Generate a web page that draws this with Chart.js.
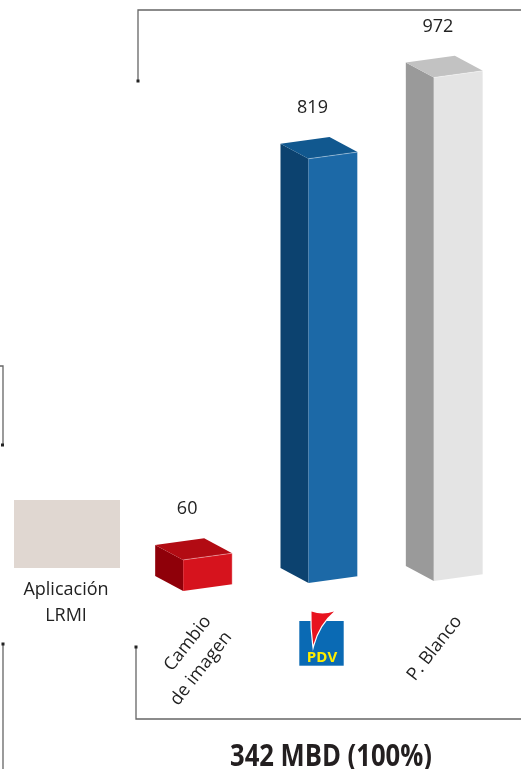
<!DOCTYPE html>
<html>
<head>
<meta charset="utf-8">
<script src="https://cdn.jsdelivr.net/npm/chart.js@4.4.0/dist/chart.umd.min.js"></script>
<style>
  html, body { margin: 0; padding: 0; background: #fff; overflow: hidden; }
  #wrap { width: 521px; height: 769px; position: relative; }
</style>
</head>
<body>
<div id="wrap"><canvas id="c" width="521" height="769"></canvas></div>
<script>
// Categories and values (thousand barrels per day)
const categories = [["Cambio", "de imagen"], "PDV", "P. Blanco"];
const values = [60, 819, 972];
const scaleRange = [0, 1000];
const sideLabel = ["Aplicación", "LRMI"];
const totalLabel = "342 MBD (100%)";

// Face colours of each 3D box
const frontColors = ["#d6131d", "#1c69a7", "#e4e4e4"];
const sideColors  = ["#8f0009", "#0c426f", "#9a9a9a"];
const topColors   = ["#b20b13", "#11588f", "#c2c2c2"];

const FONT = "'Open Sans', 'Noto Sans', sans-serif";

function poly(ctx, pts, fill) {
  ctx.beginPath();
  ctx.moveTo(pts[0][0], pts[0][1]);
  for (let k = 1; k < pts.length; k++) ctx.lineTo(pts[k][0], pts[k][1]);
  ctx.closePath();
  ctx.fillStyle = fill;
  ctx.fill();
}

function dot(ctx, x, y) {
  ctx.fillStyle = "#222";
  ctx.fillRect(x - 1.5, y - 1.5, 3, 3);
}

// Bracket lines of the neighbouring panels
const bracketPlugin = {
  id: "brackets",
  beforeDraw(chart) {
    const ctx = chart.ctx;
    ctx.save();
    ctx.strokeStyle = "#666";
    ctx.lineWidth = 1.3;
    ctx.beginPath();
    ctx.moveTo(138, 81); ctx.lineTo(138, 10); ctx.lineTo(521, 10);
    ctx.moveTo(0, 366); ctx.lineTo(3, 366); ctx.lineTo(3, 445);
    ctx.moveTo(3, 644); ctx.lineTo(3, 769);
    ctx.moveTo(136, 647); ctx.lineTo(136, 719); ctx.lineTo(521, 719);
    ctx.stroke();
    dot(ctx, 138, 81);
    dot(ctx, 2.5, 445);
    dot(ctx, 3, 644);
    dot(ctx, 136, 647);

    // LRMI swatch with its caption
    ctx.fillStyle = "#e0d7d1";
    ctx.fillRect(14, 500, 106, 68);
    ctx.fillStyle = "#222";
    ctx.font = "18px " + FONT;
    ctx.textAlign = "center";
    ctx.textBaseline = "middle";
    ctx.fillText(sideLabel[0], 66, 590);
    ctx.fillText(sideLabel[1], 66, 616);
    ctx.restore();
  }
};

// Draws every bar as an oblique 3D box, plus value and category labels
const box3dPlugin = {
  id: "box3d",
  afterDatasetsDraw(chart, args, opts) {
    const ctx = chart.ctx;
    const meta = chart.getDatasetMeta(0);
    const xs = chart.scales.x;
    const dx = opts.depthX, dy = opts.depthY, sk = opts.skew;
    ctx.save();
    meta.data.forEach((bar, i) => {
      const p = bar.getProps(["x", "y", "base", "width"], true);
      const sh = opts.baseShift[i];
      const xL = p.x - p.width / 2, xR = p.x + p.width / 2;
      const yT = p.y + sh, yB = p.base + sh;
      // left side face
      poly(ctx, [[xL + dx, yT + dy], [xL, yT], [xL, yB], [xL + dx, yB + dy]], sideColors[i]);
      // top face
      poly(ctx, [[xL, yT], [xR, yT + sk], [xR + dx, yT + sk + dy], [xL + dx, yT + dy]], topColors[i]);
      // front face
      poly(ctx, [[xL, yT], [xR, yT + sk], [xR, yB + sk], [xL, yB]], frontColors[i]);
      // light edges
      ctx.strokeStyle = "rgba(255,255,255,0.45)";
      ctx.lineWidth = 0.8;
      ctx.beginPath();
      ctx.moveTo(xL, yT); ctx.lineTo(xR, yT + sk); ctx.lineTo(xR, yB + sk);
      ctx.stroke();

      // value label
      ctx.fillStyle = "#222";
      ctx.font = "18px " + FONT;
      ctx.textAlign = "center";
      ctx.textBaseline = "middle";
      ctx.fillText(String(values[i]), xL + 4, yT - 51);

      // category label
      const cx = xs.getPixelForValue(i);
      if (categories[i] === "PDV") {
        drawPdv(ctx, cx - 11.5, 643);
      } else {
        const lines = Array.isArray(categories[i]) ? categories[i] : [categories[i]];
        ctx.save();
        ctx.translate(cx, 618);
        ctx.rotate(-52 * Math.PI / 180);
        ctx.textAlign = "right";
        ctx.textBaseline = "middle";
        lines.forEach((ln, k) => ctx.fillText(ln, 0, k * 26));
        ctx.restore();
      }
    });

    // total caption
    ctx.save();
    ctx.font = "bold 30px " + FONT;
    const w = ctx.measureText(totalLabel).width;
    const sx = 202 / w;
    ctx.translate(331, 766);
    ctx.scale(sx, 1);
    ctx.fillStyle = "#231f20";
    ctx.textAlign = "center";
    ctx.textBaseline = "alphabetic";
    ctx.fillText(totalLabel, 0, 0);
    ctx.restore();
    ctx.restore();
  }
};

// PDV logo: blue square, red flag and yellow lettering
function drawPdv(ctx, cx, cy) {
  const x0 = cx - 22.2, y0 = cy - 22;
  ctx.save();
  ctx.fillStyle = "#0a6ab4";
  ctx.fillRect(x0, y0, 44.4, 44.7);
  const flag = () => {
    ctx.beginPath();
    ctx.moveTo(cx - 10, cy - 31.5);
    ctx.quadraticCurveTo(cx + 1, cy - 27.5, cx + 12.5, cy - 31.5);
    ctx.quadraticCurveTo(cx - 2.5, cy - 19, cx - 8.2, cy + 2);
    ctx.quadraticCurveTo(cx - 10.5, cy - 15, cx - 10, cy - 31.5);
    ctx.closePath();
  };
  flag();
  ctx.strokeStyle = "#fff";
  ctx.lineWidth = 2.4;
  ctx.stroke();
  flag();
  ctx.fillStyle = "#e8131f";
  ctx.fill();
  ctx.fillStyle = "#ffed00";
  ctx.font = "bold 15px " + FONT;
  ctx.textAlign = "center";
  ctx.textBaseline = "alphabetic";
  ctx.fillText("PDV", cx + 0.5, cy + 18.7);
  ctx.restore();
}

new Chart(document.getElementById("c"), {
  type: "bar",
  data: {
    labels: categories,
    datasets: [{
      data: values,
      barThickness: 49,
      backgroundColor: "rgba(0,0,0,0)",
      borderWidth: 0
    }]
  },
  options: {
    responsive: false,
    animation: false,
    devicePixelRatio: 1,
    layout: { padding: { left: 145, right: 0, top: 65, bottom: 0 } },
    scales: {
      x: {
        display: true,
        grid: { display: false, drawTicks: false },
        border: { display: false },
        ticks: { display: false },
        afterFit(scale) { scale.height = 186; }
      },
      y: { display: false, min: scaleRange[0], max: scaleRange[1] }
    },
    plugins: {
      legend: { display: false },
      tooltip: { enabled: false },
      box3d: { depthX: -28, depthY: -15, skew: -6.7, baseShift: [8, 0, -2] }
    }
  },
  plugins: [bracketPlugin, box3dPlugin]
});
</script>
</body>
</html>
